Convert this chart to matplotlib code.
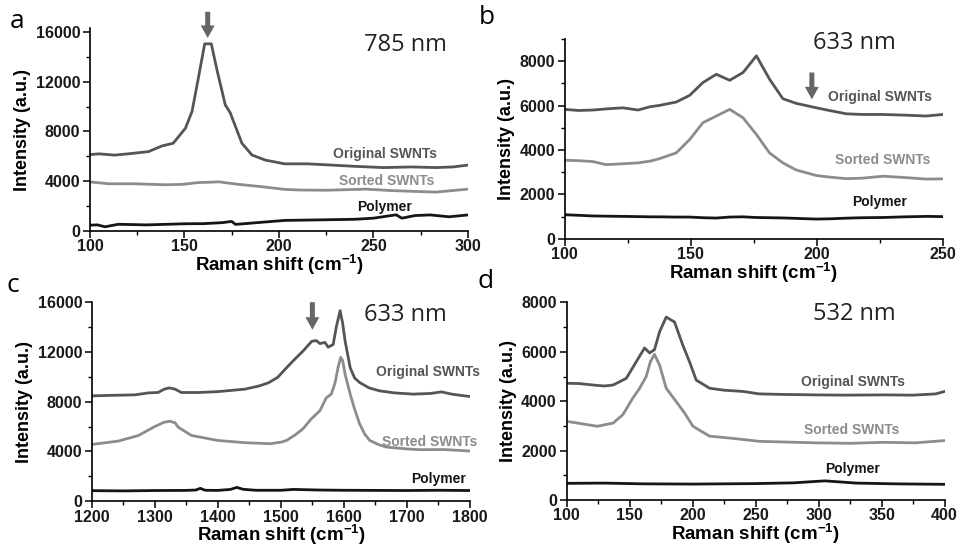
import matplotlib
matplotlib.use('Agg')
import matplotlib.pyplot as plt
from matplotlib.ticker import MultipleLocator

# ── DATA ──
# a: 785 nm, RBM region
a_x_orig = [100, 105, 113, 120, 131, 138, 144, 150.5, 154, 157.5, 160.7, 164.2, 167.2, 171.6, 174.2,
            180.4, 185.7, 192.8, 203, 215, 228, 240, 255, 270, 283, 292, 300]
a_orig = [6150, 6200, 6100, 6200, 6380, 6830, 7050, 8250, 9600, 12400, 15030, 15030, 12940, 10130, 9500,
          7050, 6110, 5700, 5400, 5400, 5300, 5200, 5100, 5150, 5100, 5150, 5300]
a_x_sorted = [100, 110, 124, 140, 148.7, 157.5, 163, 168, 172, 178.7, 190, 203, 211, 225, 246, 260, 283, 300]
a_sorted = [3950, 3800, 3800, 3720, 3750, 3900, 3920, 3960, 3880, 3750, 3580, 3350, 3300, 3280, 3370,
            3250, 3130, 3370]
a_x_poly = [100, 104, 108, 115, 130, 150, 160, 170, 175, 177, 190, 203, 220, 240, 250, 262, 265, 272,
            280, 290, 300]
a_poly = [480, 500, 350, 550, 500, 590, 600, 680, 780, 540, 700, 860, 900, 950, 1040, 1310, 1040, 1250,
          1300, 1150, 1300]

# b: 633 nm, RBM region
b_x = [100, 105.4, 111.2, 116.5, 123.1, 129.1, 134, 137.7, 144.3, 149.6, 154.9, 160.2, 165.5, 170.8,
       176.1, 181.3, 186.6, 191.9, 199.9, 205, 211.8, 218, 226.3, 235, 243.5, 250]
b_orig = [5830, 5780, 5800, 5850, 5900, 5800, 5950, 6010, 6160, 6460, 7040, 7410, 7140, 7490,
          8240, 7190, 6310, 6100, 5900, 5780, 5630, 5600, 5600, 5570, 5530, 5600]
b_sorted = [3540, 3520, 3480, 3340, 3380, 3420, 3500, 3610, 3870, 4470, 5230, 5530, 5830, 5450,
            4700, 3870, 3420, 3100, 2850, 2780, 2710, 2730, 2820, 2760, 2690, 2700]
b_poly = [1085, 1060, 1030, 1020, 1010, 1000, 990, 990, 980, 980, 950, 935, 980, 990,
          960, 950, 940, 920, 890, 900, 930, 950, 960, 990, 1010, 1000]

# c: 633 nm, D / G band region
c_x_orig = [1200, 1230, 1268, 1290, 1305, 1315, 1323, 1332, 1342, 1369, 1400, 1443, 1465, 1480, 1495,
            1509, 1522, 1535, 1549, 1556, 1562, 1570, 1575, 1583, 1588, 1594, 1598, 1602, 1610, 1617,
            1625, 1640, 1657, 1680, 1710, 1737, 1755, 1771, 1785, 1800]
c_orig = [8460, 8500, 8540, 8700, 8730, 9000, 9100, 9000, 8730, 8730, 8800, 9000, 9250, 9500, 9950,
          10720, 11400, 12050, 12840, 12900, 12660, 12750, 12370, 12580, 14000, 15300, 14300, 12840,
          10720, 9900, 9530, 9100, 8860, 8700, 8600, 8650, 8780, 8600, 8500, 8410]
c_x_sorted = [1200, 1242, 1274, 1300, 1315, 1324, 1332, 1337, 1358, 1400, 1443, 1483, 1501, 1509, 1522,
              1535, 1548, 1562, 1572, 1580, 1586, 1591, 1595, 1598, 1602, 1610, 1617, 1625, 1633, 1641,
              1655, 1667, 1700, 1720, 1760, 1800]
c_sorted = [4560, 4830, 5280, 6000, 6350, 6420, 6300, 5950, 5280, 4880, 4700, 4620, 4750, 4880, 5300,
            5810, 6600, 7270, 8300, 8600, 9500, 10800, 11550, 11300, 10190, 8600, 7400, 6210, 5400,
            4880, 4550, 4350, 4200, 4140, 4150, 4030]
c_x_poly = [1200, 1250, 1300, 1350, 1365, 1372, 1380, 1400, 1420, 1430, 1440, 1460, 1500, 1520, 1560,
            1600, 1650, 1700, 1750, 1800]
c_poly = [850, 830, 860, 870, 900, 1035, 880, 870, 950, 1110, 960, 880, 880, 950, 900,
          880, 870, 860, 880, 860]

# d: 532 nm, RBM region
d_x_orig = [100, 110, 121, 130, 137, 147.4, 155.3, 161.9, 165.9, 169.8, 173.8, 179.1, 185.7, 192.3,
            197.6, 202.9, 213.5, 225, 240, 253, 270, 298, 320, 351, 375, 393, 400]
d_orig = [4730, 4720, 4660, 4620, 4660, 4930, 5600, 6160, 5960, 6090, 6810, 7410, 7210, 6270,
          5600, 4860, 4530, 4450, 4400, 4300, 4280, 4260, 4250, 4260, 4250, 4300, 4400]
d_x_sorted = [100, 108.5, 124.4, 137, 144.7, 152.6, 158, 163.2, 166.5, 169.8, 173.8, 179.1, 187, 193.6,
              200.3, 213.5, 232, 253, 275, 298, 325, 351, 377, 400]
d_sorted = [3190, 3120, 2990, 3120, 3460, 4130, 4530, 5000, 5600, 5900, 5470, 4530, 3990, 3530,
            2990, 2590, 2500, 2380, 2350, 2320, 2300, 2340, 2320, 2410]
d_x_poly = [100, 130, 160, 200, 250, 280, 305, 330, 360, 400]
d_poly = [680, 690, 660, 650, 670, 700, 780, 690, 660, 640]

ORIG = '#555555'
SORT = '#8c8c8c'
POLY = '#151515'
ARROW = '#666666'
LAB_FONT = 'Liberation Sans'
NM_FONT = 'Open Sans'

plt.rcParams['mathtext.fontset'] = 'custom'
plt.rcParams['mathtext.rm'] = 'Liberation Sans:bold'
plt.rcParams['mathtext.bf'] = 'Liberation Sans:bold'
plt.rcParams['mathtext.default'] = 'rm'

fig = plt.figure(figsize=(9.57, 5.49), dpi=100)
fig.patch.set_facecolor('white')


def style_axis(ax, xlim, ylim, xmaj, xmin, ymaj, ymin):
    ax.set_xlim(*xlim)
    ax.set_ylim(*ylim)
    ax.xaxis.set_major_locator(MultipleLocator(xmaj))
    ax.xaxis.set_minor_locator(MultipleLocator(xmin))
    ax.yaxis.set_major_locator(MultipleLocator(ymaj))
    ax.yaxis.set_minor_locator(MultipleLocator(ymin))
    ax.spines[['top', 'right']].set_visible(False)
    ax.spines[['left', 'bottom']].set_linewidth(1.2)
    ax.tick_params(which='major', length=5, width=1.1, direction='out', pad=2)
    ax.tick_params(axis='x', which='major', pad=1)
    ax.tick_params(which='minor', length=3, width=1.0, direction='out')
    for lbl in ax.get_xticklabels() + ax.get_yticklabels():
        lbl.set_fontfamily(LAB_FONT)
        lbl.set_fontweight('bold')
        lbl.set_fontsize(11.5)
        lbl.set_color('#1a1a1a')
    ax.set_xlabel('Raman shift (cm$^{-1}$)', family=LAB_FONT, fontweight='bold',
                  fontsize=13.5, labelpad=-1)
    ax.set_ylabel('Intensity (a.u.)', family=LAB_FONT, fontweight='bold', fontsize=13, labelpad=3)


def curve_labels(ax, pos_o, pos_s, pos_p):
    kw = dict(family=LAB_FONT, fontweight='bold', fontsize=10, ha='center', va='center')
    ax.text(*pos_o, 'Original SWNTs', color=ORIG, **kw)
    ax.text(*pos_s, 'Sorted SWNTs', color=SORT, **kw)
    ax.text(*pos_p, 'Polymer', color=POLY, **kw)


def down_arrow(ax, x, y_tip, y_top):
    ax.annotate('', xy=(x, y_tip), xytext=(x, y_top), annotation_clip=False,
                arrowprops=dict(facecolor=ARROW, edgecolor='none', width=3.6,
                                headwidth=10, headlength=9, shrink=0))


# ── PANEL a ──
ax = fig.add_axes([0.094, 0.579, 0.395, 0.370])
ax.plot(a_x_orig, a_orig, color=ORIG, lw=2.0)
ax.plot(a_x_sorted, a_sorted, color=SORT, lw=2.0)
ax.plot(a_x_poly, a_poly, color=POLY, lw=2.0)
style_axis(ax, (100, 300), (0, 16300), 50, 25, 4000, 2000)
curve_labels(ax, (256, 6190), (257, 4020), (256, 1930))
ax.text(266.7, 14950, '785 nm', family=NM_FONT, fontsize=17, ha='center', va='center', color='#222222')
down_arrow(ax, 162.3, 15500, 17600)
fig.text(17 / 957, 1 - 22 / 549, 'a', family=NM_FONT, fontsize=19, ha='center', va='center')

# ── PANEL b ──
ax = fig.add_axes([0.590, 0.565, 0.395, 0.364])
ax.plot(b_x, b_orig, color=ORIG, lw=2.0)
ax.plot(b_x, b_sorted, color=SORT, lw=2.0)
ax.plot(b_x, b_poly, color=POLY, lw=2.0)
style_axis(ax, (100, 250), (0, 9000), 50, 25, 2000, 1000)
curve_labels(ax, (225, 6370), (226.3, 3540), (225, 1660))
ax.text(215, 8810, '633 nm', family=NM_FONT, fontsize=17, ha='center', va='center', color='#222222')
down_arrow(ax, 198.1, 6280, 7490)
fig.text(487 / 957, 1 - 18 / 549, 'b', family=NM_FONT, fontsize=19, ha='center', va='center')

# ── PANEL c ──
ax = fig.add_axes([0.096, 0.087, 0.395, 0.363])
ax.plot(c_x_orig, c_orig, color=ORIG, lw=2.0)
ax.plot(c_x_sorted, c_sorted, color=SORT, lw=2.0)
ax.plot(c_x_poly, c_poly, color=POLY, lw=2.0)
style_axis(ax, (1200, 1800), (0, 16000), 100, 50, 4000, 2000)
curve_labels(ax, (1734, 10370), (1736.5, 4750), (1750, 1780))
ax.text(1697, 14970, '633 nm', family=NM_FONT, fontsize=17, ha='center', va='center', color='#222222')
down_arrow(ax, 1550, 13770, 15980)
fig.text(13 / 957, 1 - 285 / 549, 'c', family=NM_FONT, fontsize=19, ha='center', va='center')

# ── PANEL d ──
ax = fig.add_axes([0.592, 0.089, 0.395, 0.360])
ax.plot(d_x_orig, d_orig, color=ORIG, lw=2.0)
ax.plot(d_x_sorted, d_sorted, color=SORT, lw=2.0)
ax.plot(d_x_poly, d_poly, color=POLY, lw=2.0)
style_axis(ax, (100, 400), (0, 8000), 50, 25, 2000, 1000)
curve_labels(ax, (327, 4800), (326, 2850), (327, 1250))
ax.text(328.6, 7520, '532 nm', family=NM_FONT, fontsize=17, ha='center', va='center', color='#222222')
fig.text(486 / 957, 1 - 282 / 549, 'd', family=NM_FONT, fontsize=19, ha='center', va='center')

plt.savefig('out.png', dpi=100, facecolor='white')
